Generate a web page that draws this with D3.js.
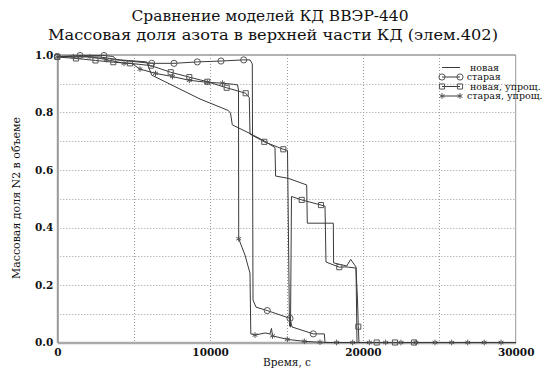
<!DOCTYPE html>
<html>
<head>
<meta charset="utf-8">
<script src="https://cdn.jsdelivr.net/npm/d3@7"></script>
<style>
  html, body { margin: 0; padding: 0; background: #fff; }
  svg { display: block; }
  text { font-family: "DejaVu Serif", serif; fill: #111; }
</style>
</head>
<body>
<svg id="chart" width="553" height="372"></svg>
<script>
// Time axis (s) and mass fraction of N2 for the four pressurizer models
const newTime = [0, 2795, 4103, 5851, 6178, 9339, 11191, 11335, 11453, 12611, 13547, 14247, 14287, 15118, 16322, 16361, 18063, 18083, 18940, 19202, 19549, 19614, 30000];
const newFrac = [0.995, 0.993, 0.983, 0.976, 0.930, 0.847, 0.807, 0.798, 0.757, 0.727, 0.701, 0.678, 0.579, 0.571, 0.548, 0.415, 0.415, 0.277, 0.266, 0.289, 0.263, 0, 0];

const oldTime = [0, 1486, 3056, 3645, 3907, 6178, 7637, 9162, 10713, 12199, 12612, 12762, 12808, 13004, 13743, 15229, 15360, 16754, 17474, 17520, 30000];
const oldFrac = [0.995, 0.998, 0.998, 0.995, 0.983, 0.971, 0.971, 0.976, 0.979, 0.983, 0.983, 0.969, 0.148, 0.123, 0.111, 0.084, 0.054, 0.030, 0.030, 0, 0];
const oldMarkTime = [0, 1486, 3056, 6178, 7637, 9162, 10713, 12199, 13743, 15229, 16754];
const oldMarkFrac = [0.995, 0.998, 0.998, 0.971, 0.971, 0.976, 0.979, 0.983, 0.111, 0.084, 0.030];

const newSimpTime = [0, 1224, 2500, 3665, 4758, 6132, 7421, 8639, 9817, 11086, 12330, 12565, 12611, 13547, 14791, 15066, 15196, 15262, 15327, 15995, 17258, 17520, 17585, 18455, 18895, 19549, 19647, 19699, 19745, 23344];
const newSimpFrac = [0.993, 0.988, 0.981, 0.975, 0.971, 0.963, 0.940, 0.923, 0.907, 0.886, 0.867, 0.852, 0.725, 0.698, 0.672, 0.668, 0.057, 0.054, 0.508, 0.496, 0.478, 0.474, 0.280, 0.262, 0.263, 0.259, 0.148, 0.055, 0, 0];
const newSimpMarkTime = [0, 1224, 2500, 3665, 4758, 6132, 7421, 8639, 9817, 11086, 12330, 13547, 14791, 15995, 17258, 18455, 19699, 20903, 22100, 23344];
const newSimpMarkFrac = [0.993, 0.988, 0.981, 0.975, 0.971, 0.963, 0.940, 0.923, 0.907, 0.886, 0.867, 0.698, 0.672, 0.496, 0.478, 0.262, 0.055, 0, 0, 0];

const oldSimpTime = [0, 1047, 2140, 3220, 4365, 4869, 5412, 6427, 7539, 8639, 9817, 10812, 11518, 11793, 11859, 11872, 12284, 12611, 12664, 12938, 13592, 13920, 14018, 14084, 15052, 16165, 17192, 17850, 30000];
const oldSimpFrac = [0.994, 0.994, 0.994, 0.984, 0.971, 0.971, 0.951, 0.936, 0.925, 0.912, 0.905, 0.902, 0.898, 0.896, 0.878, 0.361, 0.304, 0.241, 0.030, 0.026, 0.033, 0.030, 0.049, 0.023, 0.011, 0.004, 0.001, 0, 0];
const oldSimpMarkTime = [0, 1047, 2140, 3220, 4365, 5412, 6427, 7539, 8639, 9817, 10812, 11872, 12938, 14084, 15052, 16165, 17192, 18280, 19330, 20420, 21490, 22490, 23470, 24720, 25810, 26860, 27940, 29040];
const oldSimpMarkFrac = [0.994, 0.994, 0.994, 0.984, 0.971, 0.951, 0.936, 0.925, 0.912, 0.905, 0.902, 0.361, 0.026, 0.023, 0.011, 0.004, 0.001, 0, 0, 0, 0, 0, 0, 0, 0, 0, 0, 0];

const xTicks = [0, 10000, 20000, 30000];
const yTicks = [0, 0.2, 0.4, 0.6, 0.8, 1.0];
const legendNames = ["новая", "старая", "новая, упрощ.", "старая, упрощ."];

const titleLines = ["Сравнение моделей КД ВВЭР-440", "Массовая доля азота в верхней части КД (элем.402)"];
const xTitle = "Время, с";
const yTitle = "Массовая доля N2 в объеме";

const svg = d3.select("#chart");
const plotLeft = 57.3, plotRight = 515.7, plotTop = 55, plotBottom = 342.5;
const x = d3.scaleLinear().domain([0, 30000]).range([plotLeft, plotRight]);
const y = d3.scaleLinear().domain([0, 1]).range([plotBottom, plotTop]);

// Dotted grid
const grid = svg.append("g").attr("stroke", "#9a9a9a").attr("stroke-width", 1).attr("stroke-dasharray", "1,2");
d3.range(1, 10).forEach(i => {
  const yy = Math.round(y(i / 10)) + 0.5;
  grid.append("line").attr("x1", plotLeft).attr("x2", plotRight).attr("y1", yy).attr("y2", yy);
});
d3.range(5000, 30000, 5000).forEach(t => {
  const xx = Math.round(x(t)) + 0.5;
  grid.append("line").attr("x1", xx).attr("x2", xx).attr("y1", plotTop).attr("y2", plotBottom);
});

// Frame
svg.append("line").attr("x1", plotLeft).attr("x2", plotRight).attr("y1", plotTop).attr("y2", plotTop)
  .attr("stroke", "#999").attr("stroke-width", 1.5);
svg.append("line").attr("x1", plotRight).attr("x2", plotRight).attr("y1", plotTop).attr("y2", plotBottom)
  .attr("stroke", "#999").attr("stroke-width", 1);

// Axes
const xAxis = d3.axisBottom(x).tickValues(xTicks).tickSize(0).tickPadding(6).tickFormat(d3.format("d"));
const yAxis = d3.axisLeft(y).tickValues(yTicks).tickSize(0).tickPadding(4).tickFormat(d3.format(".1f"));
const gx = svg.append("g").attr("transform", `translate(0,${plotBottom})`).call(xAxis);
gx.select(".domain").attr("stroke", "#aaa").attr("stroke-width", 2.5);
gx.selectAll("text").attr("font-family", "DejaVu Serif").attr("font-size", 10.5).attr("font-weight", "bold").attr("fill", "#111");
const gy = svg.append("g").attr("transform", `translate(${plotLeft},0)`).call(yAxis);
gy.select(".domain").attr("stroke", "#999").attr("stroke-width", 2);
gy.selectAll("text").attr("font-family", "DejaVu Serif").attr("font-size", 10.5).attr("font-weight", "bold").attr("fill", "#111");

// Titles
const titleWidths = [277, 450];
svg.selectAll(".title").data(titleLines).join("text")
  .attr("x", (d, i) => i === 0 ? 270 : 273).attr("y", (d, i) => 21 + i * 19)
  .attr("text-anchor", "middle").attr("font-size", 15.5)
  .attr("textLength", (d, i) => titleWidths[i]).attr("lengthAdjust", "spacingAndGlyphs")
  .text(d => d);
svg.append("text").attr("x", 287).attr("y", 365.5).attr("text-anchor", "middle")
  .attr("font-size", 10.5).attr("textLength", 48).attr("lengthAdjust", "spacingAndGlyphs").text(xTitle);
svg.append("text").attr("transform", "translate(19.5,198) rotate(-90)").attr("text-anchor", "middle")
  .attr("font-size", 10.5).attr("textLength", 162).attr("lengthAdjust", "spacingAndGlyphs").text(yTitle);

// Curves
const lineColor = "#3a3a3a";
const markColor = "#555";
const line = d3.line().x(d => x(d[0])).y(d => y(d[1]));
const plot = svg.append("g");
function drawSeries(times, fracs) {
  plot.append("path").datum(d3.zip(times, fracs)).attr("d", line)
    .attr("fill", "none").attr("stroke", lineColor).attr("stroke-width", 1);
}
const symCircle = d3.symbol().type(d3.symbolCircle).size(30);
const symSquare = d3.symbol().type(d3.symbolSquare).size(26);
const symStar = d3.symbol().type(d3.symbolAsterisk).size(22);
function drawMarks(times, fracs, sym) {
  plot.append("g").selectAll("path").data(d3.zip(times, fracs)).join("path")
    .attr("transform", d => `translate(${x(d[0])},${y(d[1])})`)
    .attr("d", sym).attr("fill", "none").attr("stroke", markColor).attr("stroke-width", 1);
}
drawSeries(newTime, newFrac);
drawSeries(oldTime, oldFrac);
drawSeries(newSimpTime, newSimpFrac);
drawSeries(oldSimpTime, oldSimpFrac);
drawMarks(oldMarkTime, oldMarkFrac, symCircle);
drawMarks(newSimpMarkTime, newSimpMarkFrac, symSquare);
drawMarks(oldSimpMarkTime, oldSimpMarkFrac, symStar);

// Legend
const legendSyms = [null, symCircle, symSquare, symStar];
const legendTextX = [470, 466.7, 470, 467];
const legendY = [67.5, 77, 86.5, 96];
const lg = svg.append("g");
legendNames.forEach((name, i) => {
  const ly = legendY[i];
  lg.append("line").attr("x1", 442).attr("x2", 460).attr("y1", ly).attr("y2", ly)
    .attr("stroke", lineColor).attr("stroke-width", 1);
  if (legendSyms[i]) {
    [442, 460].forEach(px => lg.append("path").attr("transform", `translate(${px},${ly})`)
      .attr("d", legendSyms[i]).attr("fill", "none").attr("stroke", markColor).attr("stroke-width", 1));
  }
  lg.append("text").attr("x", legendTextX[i]).attr("y", ly + 3.2).attr("font-size", 9.5).text(name);
});
</script>
</body>
</html>
